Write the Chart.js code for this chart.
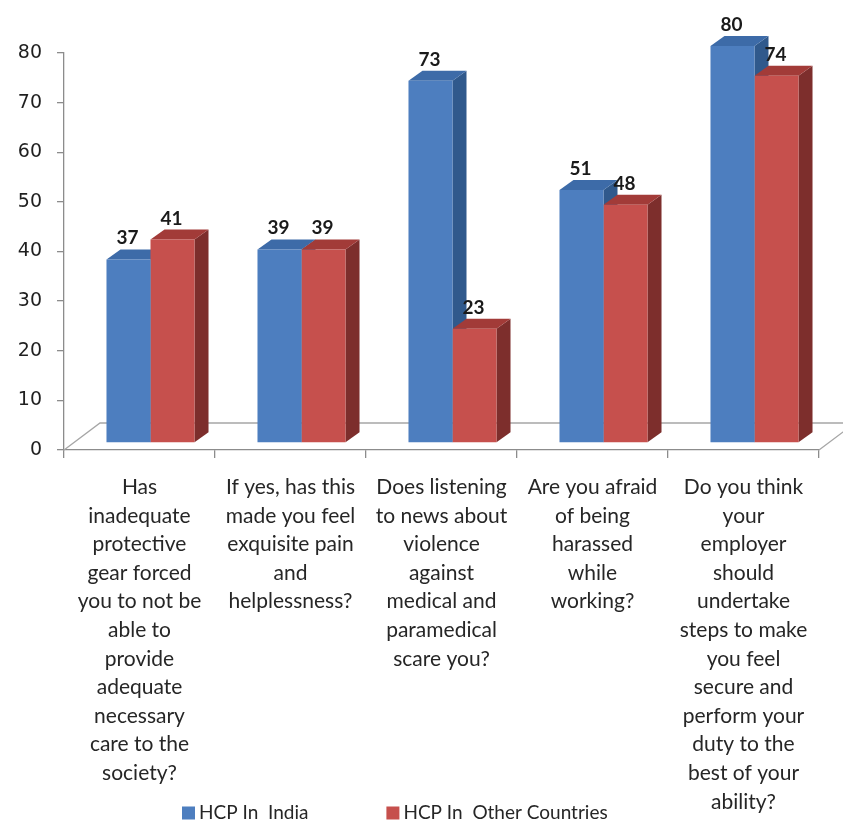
<!DOCTYPE html>
<html>
<head>
<meta charset="utf-8">
<script src="https://cdn.jsdelivr.net/npm/chart.js@4.4.1/dist/chart.umd.min.js"></script>
<style>
  html, body { margin: 0; padding: 0; background: #ffffff; }
  #wrap { width: 843px; height: 825px; }
</style>
</head>
<body>
<div id="wrap"><canvas id="c" width="843" height="825"></canvas></div>
<script>
// ---- Data ----
const categories = [
  ["Has", "inadequate", "protective", "gear forced", "you to not be", "able to", "provide", "adequate", "necessary", "care to the", "society?"],
  ["If yes, has this", "made you feel", "exquisite pain", "and", "helplessness?"],
  ["Does listening", "to news about", "violence", "against", "medical and", "paramedical", "scare you?"],
  ["Are you afraid", "of being", "harassed", "while", "working?"],
  ["Do you think", "your", "employer", "should", "undertake", "steps to make", "you feel", "secure and", "perform your", "duty to the", "best of your", "ability?"]
];
const seriesNames = ["HCP In  India", "HCP In  Other Countries"];
const hcpIndia = [37, 39, 73, 51, 80];
const hcpOther = [41, 39, 23, 48, 74];
const yTicks = [0, 10, 20, 30, 40, 50, 60, 70, 80];

// ---- Styles ----
const frontColors = ["#4D7EBF", "#C6504D"];
const topColors   = ["#3D6BA8", "#A23B38"];
const sideColors  = ["#30598C", "#7D2E2C"];
const DEPTH_X = 14, DEPTH_Y = 10;      // bar depth
const FLOOR_X = 36, FLOOR_Y = 27;      // floor depth
const SHIFT_X = 11, SHIFT_Y = -7;      // bars sit mid-floor

const threeD = {
  id: 'threeD',
  beforeDatasetsDraw(chart) {
    const ctx = chart.ctx;
    const a = chart.chartArea;
    // floor
    ctx.save();
    ctx.strokeStyle = '#a6a6a6';
    ctx.lineWidth = 1.3;
    ctx.beginPath();
    ctx.moveTo(a.left, a.bottom);
    ctx.lineTo(a.left + FLOOR_X, a.bottom - FLOOR_Y);
    ctx.lineTo(a.right + FLOOR_X, a.bottom - FLOOR_Y);
    ctx.lineTo(a.right, a.bottom);
    ctx.stroke();
    ctx.restore();

    ctx.save();
    ctx.translate(SHIFT_X, SHIFT_Y);
    const metas = [chart.getDatasetMeta(0), chart.getDatasetMeta(1)];
    const n = chart.data.labels.length;
    for (let i = 0; i < n; i++) {
      metas.forEach((meta, d) => {
        const el = meta.data[i];
        const l = el.x - el.width / 2, r = el.x + el.width / 2;
        const t = el.y, b = el.base;
        ctx.fillStyle = sideColors[d];
        ctx.beginPath();
        ctx.moveTo(r, t);
        ctx.lineTo(r + DEPTH_X, t - DEPTH_Y);
        ctx.lineTo(r + DEPTH_X, b - DEPTH_Y);
        ctx.lineTo(r, b);
        ctx.closePath();
        ctx.fill();
        ctx.fillStyle = topColors[d];
        ctx.beginPath();
        ctx.moveTo(l, t);
        ctx.lineTo(l + DEPTH_X, t - DEPTH_Y);
        ctx.lineTo(r + DEPTH_X, t - DEPTH_Y);
        ctx.lineTo(r, t);
        ctx.closePath();
        ctx.fill();
      });
    }
  },
  afterDatasetsDraw(chart) {
    const ctx = chart.ctx;
    ctx.fillStyle = '#1a1a1a';
    ctx.font = 'bold 19px Lato';
    ctx.textAlign = 'center';
    ctx.textBaseline = 'alphabetic';
    chart.data.datasets.forEach((ds, d) => {
      chart.getDatasetMeta(d).data.forEach((el, i) => {
        ctx.fillText(String(ds.data[i]), el.x - 1, el.y - 15);
      });
    });
    ctx.restore();
  },
  afterDraw(chart) {
    // legend drawn in the bottom-left area beside the long last label
    const ctx = chart.ctx;
    ctx.save();
    ctx.font = '19px Lato';
    ctx.textBaseline = 'middle';
    ctx.textAlign = 'left';
    const cy = 813;
    let x = 182;
    chart.data.datasets.forEach((ds, d) => {
      ctx.fillStyle = ds.backgroundColor;
      ctx.fillRect(x, cy - 6.5, 13, 13);
      ctx.fillStyle = '#262626';
      ctx.fillText(ds.label, x + 17, cy);
      x += 17 + ctx.measureText(ds.label).width + 78;
    });
    ctx.restore();
  }
};

new Chart(document.getElementById('c'), {
  type: 'bar',
  data: {
    labels: categories,
    datasets: [
      { label: seriesNames[0], data: hcpIndia, backgroundColor: frontColors[0], borderWidth: 0, clip: false },
      { label: seriesNames[1], data: hcpOther, backgroundColor: frontColors[1], borderWidth: 0, clip: false }
    ]
  },
  options: {
    responsive: false,
    animation: false,
    events: [],
    layout: { padding: { top: 53, right: 24, left: 0, bottom: 0 } },
    datasets: { bar: { categoryPercentage: 0.583, barPercentage: 1.0 } },
    plugins: {
      legend: { display: false },
      tooltip: { enabled: false },
      title: { display: false }
    },
    scales: {
      x: {
        afterFit(scale) { scale.height = 375; },
        border: { color: '#8c8c8c', width: 1.3 },
        grid: { offset: true, drawOnChartArea: false, drawTicks: true, tickLength: 8, color: '#8c8c8c', lineWidth: 1.3 },
        ticks: {
          autoSkip: false, maxRotation: 0, minRotation: 0, padding: 15,
          color: '#262626',
          font: { family: 'Lato', size: 21, lineHeight: 1.362 }
        }
      },
      y: {
        min: 0, max: 80,
        afterFit(scale) { scale.width = 64; },
        afterBuildTicks(scale) { scale.ticks = yTicks.map(v => ({ value: v })); },
        border: { color: '#8c8c8c', width: 1.3 },
        grid: { drawOnChartArea: false, drawTicks: true, tickLength: 7, color: '#8c8c8c', lineWidth: 1.3 },
        ticks: {
          padding: 15,
          color: '#1f1f1f',
          font: { family: 'DejaVu Sans', size: 19 }
        }
      }
    }
  },
  plugins: [threeD]
});
</script>
</body>
</html>
